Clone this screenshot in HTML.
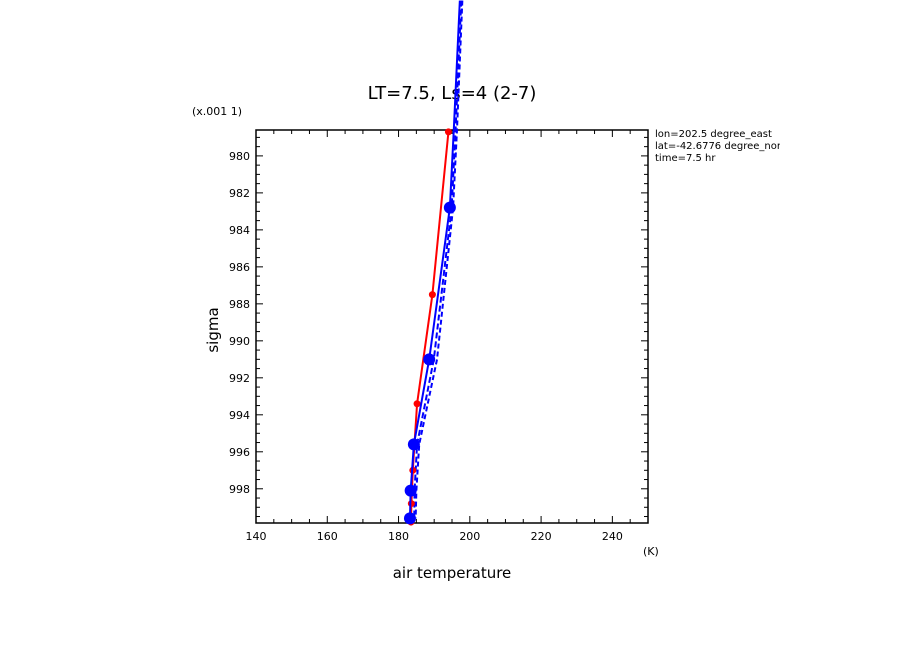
<!DOCTYPE html>
<html><head><meta charset="utf-8"><style>
body{margin:0;background:#fff}
svg{display:block;font-family:"DejaVu Sans","Liberation Sans",sans-serif}
</style></head><body>
<svg width="904" height="654" id="c">
<text x="452" y="99" font-size="18" text-anchor="middle">LT=7.5, Ls=4 (2-7)</text>
<text x="192" y="115" font-size="11">(x.001 1)</text>
<text x="218" y="330" font-size="15" text-anchor="middle" transform="rotate(-90 218 330)">sigma</text>
<text x="452" y="578" font-size="15" text-anchor="middle">air temperature</text>
<text x="643" y="555" font-size="11">(K)</text>
<svg x="655" y="125" width="125" height="50">
<text x="0" y="12" font-size="10">lon=202.5 degree_east</text>
<text x="0" y="24" font-size="10">lat=-42.6776 degree_north</text>
<text x="0" y="36" font-size="10">time=7.5 hr</text>
</svg>
<g id="plot"></g>
</svg>
<script>
const xTicks=[140,160,180,200,220,240];
const yTicks=[980,982,984,986,988,990,992,994,996,998];
const redT=[194,189.5,185.2,184,183.6,183.5];
const redS=[978.7,987.5,993.4,997,998.8,999.8];
const blueS=[971.6,978.6,982.8,991,995.6,998.1,999.6];
const blue1=[197.2,195.5,194.4,188.6,184.3,183.4,183.2];
const blue2=[197.6,196.0,194.9,189.9,185.2,184.5,184.4];
const blue3=[197.9,196.4,195.3,190.8,185.8,185.0,184.8];
const X0=256,X1=648,Y0=130,Y1=523;
const xs=v=>X0+(v-140)/110*(X1-X0);
const ys=v=>Y0+(v-978.6)/(999.85-978.6)*(Y1-Y0);
const g=document.getElementById('plot');
const NS='http://www.w3.org/2000/svg';
function mk(t,a){const e=document.createElementNS(NS,t);for(const k in a)e.setAttribute(k,a[k]);g.appendChild(e);return e;}
const frame=mk('rect',{x:X0,y:Y0,width:X1-X0,height:Y1-Y0,fill:'none',stroke:'#000','stroke-width':1.5});


for(let v=140;v<=250;v+=5){const major=v%20===0;const x=xs(v);
 const t1=mk('line',{x1:x,x2:x,y1:Y1,y2:Y1-(major?7:4),stroke:'#000'});
 
 
 const t2=mk('line',{x1:x,x2:x,y1:Y0,y2:Y0+(major?7:4),stroke:'#000'});
 
 }
xTicks.forEach(v=>{const t=mk('text',{x:xs(v),y:Y1+17,'font-size':11,'text-anchor':'middle'});t.textContent=v;
 
 });
for(let v=979;v<=999.8;v+=0.5){const major=Math.abs(v%2)<0.01;const y=ys(v);
 const t1=mk('line',{x1:X0,x2:X0+(major?7:4),y1:y,y2:y,stroke:'#000'});
 
 
 const t2=mk('line',{x1:X1,x2:X1-(major?7:4),y1:y,y2:y,stroke:'#000'});
 
 }
yTicks.forEach(v=>{const t=mk('text',{x:X0-6,y:ys(v)+4,'font-size':11,'text-anchor':'end'});t.textContent=v;
 
 });
function series(T,S,color,dash,name,r){
 const p=mk('polyline',{points:T.map((t,i)=>xs(t)+','+ys(S[i])).join(' '),fill:'none',stroke:color,'stroke-width':2,'stroke-dasharray':dash||'none'});
 
 
 if(r)T.forEach((t,i)=>{if(S[i]<978.65)return;const c=mk('circle',{cx:xs(t),cy:ys(S[i]),r:r,fill:color});
  
  });
}
series(blue3,blueS,'#0000ff','5 3','blue-dashed-2',0);
series(blue2,blueS,'#0000ff','6 3','blue-dashed-1',0);
series(redT,redS,'#ff0000','','red',3.5);
series(blue1,blueS,'#0000ff','','blue',6);
</script>
</body></html>
